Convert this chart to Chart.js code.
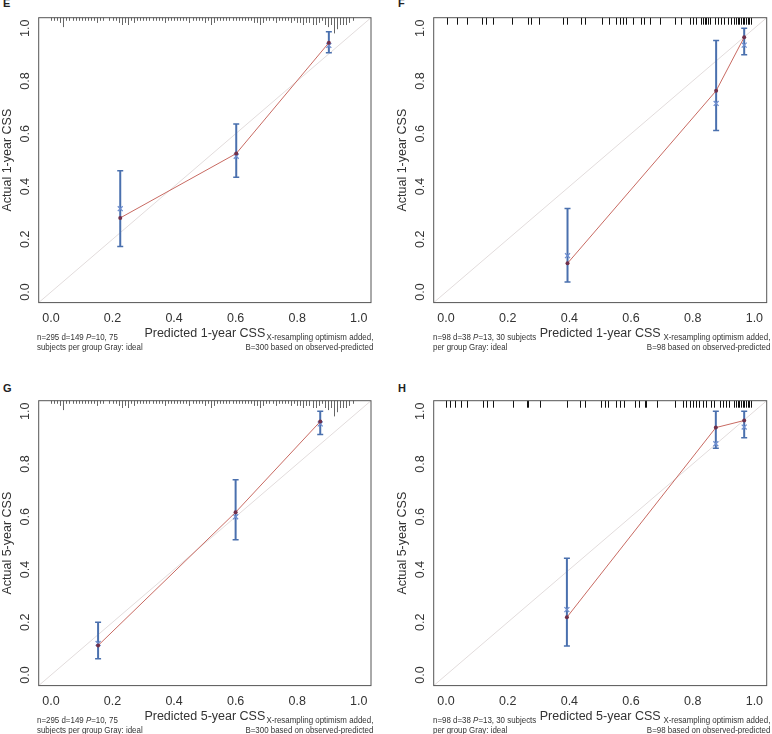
<!DOCTYPE html>
<html>
<head>
<meta charset="utf-8">
<script src="https://cdn.jsdelivr.net/npm/chart.js@4"></script>
<style>
  body { margin: 0; background: #fff; width: 772px; height: 734px; position: relative; overflow: hidden;
         font-family: 'Liberation Sans', Arial, sans-serif; color: #222; }
  canvas { position: absolute; }
  .letter { position: absolute; font-weight: bold; font-size: 11px; line-height: 11px; }
  .note { position: absolute; font-size: 9px; line-height: 10px; white-space: nowrap; color: #333; }
  .note.l { transform: scaleX(0.88); transform-origin: left top; }
  .note.r { transform: scaleX(0.88); transform-origin: right top; text-align: right; }
</style>
</head>
<body>
<div class="letter" style="left:3px;top:-2px">E</div>
<div class="letter" style="left:398px;top:-2px">F</div>
<div class="letter" style="left:3px;top:383px">G</div>
<div class="letter" style="left:398px;top:383px">H</div>

<canvas id="chart-e" width="386" height="360" style="left:0;top:0"></canvas>
<canvas id="chart-f" width="377" height="360" style="left:395px;top:0"></canvas>
<canvas id="chart-g" width="386" height="360" style="left:0;top:383px"></canvas>
<canvas id="chart-h" width="377" height="360" style="left:395px;top:383px"></canvas>

<div class="note l" style="left:37px;top:332px">n=295 d=149 <i>P</i>=10, 75<br>subjects per group Gray: ideal</div>
<div class="note r" style="right:399px;top:332px">X-resampling optimism added,<br>B=300 based on observed-predicted</div>
<div class="note l" style="left:433px;top:332px">n=98 d=38 <i>P</i>=13, 30 subjects<br>per group Gray: ideal</div>
<div class="note r" style="right:2px;top:332px">X-resampling optimism added,<br>B=98 based on observed-predicted</div>
<div class="note l" style="left:37px;top:715px">n=295 d=149 <i>P</i>=10, 75<br>subjects per group Gray: ideal</div>
<div class="note r" style="right:399px;top:715px">X-resampling optimism added,<br>B=300 based on observed-predicted</div>
<div class="note l" style="left:433px;top:715px">n=98 d=38 <i>P</i>=13, 30 subjects<br>per group Gray: ideal</div>
<div class="note r" style="right:2px;top:715px">X-resampling optimism added,<br>B=98 based on observed-predicted</div>

<script>
// axis
const axisRange = [-0.04, 1.04];
const xTicks = [0, 0.2, 0.4, 0.6, 0.8, 1.0];
const yTicks = [0, 0.2, 0.4, 0.6, 0.8, 1.0];

// E: training, 1-year
const predE = [0.225, 0.602, 0.903];
const obsE  = [0.281, 0.525, 0.945];
const corrE = [0.316, 0.515, 0.935];
const loE   = [0.173, 0.435, 0.907];
const hiE   = [0.460, 0.637, 0.987];

// F: validation, 1-year
const predF = [0.394, 0.876, 0.967];
const obsF  = [0.109, 0.763, 0.966];
const corrF = [0.138, 0.715, 0.936];
const loF   = [0.038, 0.612, 0.900];
const hiF   = [0.317, 0.954, 1.000];

// G: training, 5-year
const predG = [0.153, 0.600, 0.875];
const obsG  = [0.112, 0.617, 0.961];
const corrG = [0.120, 0.600, 0.952];
const loG   = [0.062, 0.513, 0.912];
const hiG   = [0.200, 0.740, 1.000];

// H: validation, 5-year
const predH = [0.392, 0.875, 0.967];
const obsH  = [0.219, 0.938, 0.965];
const corrH = [0.248, 0.877, 0.940];
const loH   = [0.110, 0.860, 0.900];
const hiH   = [0.443, 1.000, 1.000];

// spike histogram of predicted values (training set), bins 0.00 .. 0.99
const spikeBins = [0.00, 0.01, 0.02, 0.03, 0.04, 0.05, 0.06, 0.07, 0.08, 0.09,
  0.10, 0.11, 0.12, 0.13, 0.14, 0.15, 0.16, 0.17, 0.18, 0.19,
  0.20, 0.21, 0.22, 0.23, 0.24, 0.25, 0.26, 0.27, 0.28, 0.29,
  0.30, 0.31, 0.32, 0.33, 0.34, 0.35, 0.36, 0.37, 0.38, 0.39,
  0.40, 0.41, 0.42, 0.43, 0.44, 0.45, 0.46, 0.47, 0.48, 0.49,
  0.50, 0.51, 0.52, 0.53, 0.54, 0.55, 0.56, 0.57, 0.58, 0.59,
  0.60, 0.61, 0.62, 0.63, 0.64, 0.65, 0.66, 0.67, 0.68, 0.69,
  0.70, 0.71, 0.72, 0.73, 0.74, 0.75, 0.76, 0.77, 0.78, 0.79,
  0.80, 0.81, 0.82, 0.83, 0.84, 0.85, 0.86, 0.87, 0.88, 0.89,
  0.90, 0.91, 0.92, 0.93, 0.94, 0.95, 0.96, 0.97, 0.98, 0.99];
const spikeE = [1, 1, 1, 2, 4, 1, 1, 1, 1, 1,
  1, 1, 1, 1, 1, 2, 1, 1, 0, 1,
  1, 1, 2, 3, 2, 3, 1, 2, 1, 1,
  1, 1, 1, 1, 1, 1, 1, 2, 1, 1,
  1, 1, 1, 1, 1, 2, 1, 1, 1, 1,
  2, 1, 3, 2, 1, 1, 1, 1, 1, 1,
  1, 1, 1, 1, 1, 1, 2, 2, 3, 2,
  1, 1, 1, 2, 1, 1, 1, 1, 2, 1,
  2, 2, 3, 2, 2, 3, 3, 2, 1, 3,
  4, 3, 7, 5, 3, 3, 3, 2, 1, 0];
const spikeG = spikeE;

// rug of predicted values (validation set)
const rugF = [0.002, 0.037, 0.067, 0.118, 0.128, 0.151, 0.213, 0.267, 0.275, 0.301, 0.378, 0.392,
  0.438, 0.450, 0.507, 0.529, 0.552, 0.563, 0.574, 0.583, 0.606, 0.633, 0.641, 0.660, 0.693,
  0.744, 0.763, 0.792, 0.800, 0.811, 0.828, 0.834, 0.839, 0.844, 0.850, 0.855, 0.871, 0.881,
  0.892, 0.903, 0.914, 0.924, 0.935, 0.940, 0.946, 0.951, 0.956, 0.962, 0.967, 0.972, 0.978,
  0.983, 0.988];
const rugH = [0.000, 0.013, 0.029, 0.048, 0.067, 0.119, 0.132, 0.151, 0.218, 0.261, 0.266, 0.304,
  0.391, 0.434, 0.450, 0.502, 0.515, 0.525, 0.552, 0.563, 0.576, 0.612, 0.625, 0.644, 0.649,
  0.684, 0.741, 0.768, 0.779, 0.790, 0.800, 0.811, 0.822, 0.833, 0.844, 0.860, 0.870, 0.887,
  0.897, 0.908, 0.919, 0.935, 0.940, 0.946, 0.951, 0.956, 0.962, 0.967, 0.972, 0.978, 0.983, 0.988];

const FONT = "'Liberation Sans', Arial, sans-serif";
const RED = '#c86a62';
const DOT = '#70304a';
const XBLUE = '#6f8fd0';
const BAR = '#4a70ae';
const IDEAL = '#e2dcdc';

// error bars, box and rug
const calibPlugin = {
  id: 'calib',
  afterDatasetDraw(chart, args) {
    if (args.index !== 2) return;
    const p = chart.options.plugins.calib;
    const xs = chart.scales.x, ys = chart.scales.y, ctx = chart.ctx;
    ctx.save();
    ctx.strokeStyle = BAR;
    p.pred.forEach((v, i) => {
      const px = xs.getPixelForValue(v);
      const y1 = ys.getPixelForValue(p.lo[i]), y2 = ys.getPixelForValue(p.hi[i]);
      ctx.lineWidth = 2;
      ctx.beginPath(); ctx.moveTo(px, y1); ctx.lineTo(px, y2); ctx.stroke();
      ctx.lineWidth = 1.5;
      ctx.beginPath();
      ctx.moveTo(px - 3, y1); ctx.lineTo(px + 3, y1);
      ctx.moveTo(px - 3, y2); ctx.lineTo(px + 3, y2);
      ctx.stroke();
    });
    ctx.restore();
  },
  afterDraw(chart) {
    const p = chart.options.plugins.calib;
    const a = chart.chartArea, xs = chart.scales.x, ctx = chart.ctx;
    ctx.save();
    ctx.lineWidth = 1;
    if (p.spikes) {
      ctx.strokeStyle = '#666';
      spikeBins.forEach((b, i) => {
        if (!p.spikes[i]) return;
        const px = Math.round(xs.getPixelForValue(b)) + 0.5;
        ctx.beginPath(); ctx.moveTo(px, a.top); ctx.lineTo(px, a.top + 1 + p.spikes[i] * 2.1); ctx.stroke();
      });
    }
    if (p.rug) {
      ctx.strokeStyle = '#111';
      p.rug.forEach(v => {
        const px = Math.round(xs.getPixelForValue(v)) + 0.5;
        ctx.beginPath(); ctx.moveTo(px, a.top); ctx.lineTo(px, a.top + 7); ctx.stroke();
      });
    }
    ctx.strokeStyle = '#555';
    ctx.strokeRect(a.left, a.top, a.right - a.left, a.bottom - a.top);
    ctx.restore();
  }
};

function makePanel(id, p) {
  return new Chart(document.getElementById(id), {
    type: 'line',
    data: {
      datasets: [
        { label: 'Apparent', data: p.pred.map((x, i) => ({ x: x, y: p.obs[i] })),
          borderColor: RED, borderWidth: 1, pointRadius: 2, pointBackgroundColor: DOT,
          pointBorderColor: DOT, pointBorderWidth: 0, tension: 0 },
        { label: 'Bias-corrected', data: p.pred.map((x, i) => ({ x: x, y: p.corr[i] })),
          showLine: false, pointStyle: 'crossRot', pointRadius: 3.5, pointBorderColor: XBLUE,
          pointBorderWidth: 1.3 },
        { label: 'Ideal', data: axisRange.map(v => ({ x: v, y: v })),
          borderColor: IDEAL, borderWidth: 1, pointRadius: 0 }
      ]
    },
    options: {
      responsive: false,
      animation: false,
      layout: { padding: { left: 0, top: 17.7, right: p.padRight, bottom: 0 } },
      plugins: {
        legend: { display: false },
        tooltip: { enabled: false },
        calib: p
      },
      scales: {
        x: {
          type: 'linear', min: axisRange[0], max: axisRange[1],
          afterBuildTicks: s => { s.ticks = xTicks.map(v => ({ value: v })); },
          afterFit: s => { s.height = 57.4; },
          grid: { display: false, drawTicks: false },
          border: { display: false },
          ticks: { padding: 8, color: '#333', font: { size: 12.5, family: FONT },
                   callback: v => v.toFixed(1) },
          title: { display: true, text: p.xTitle, color: '#333', font: { size: 12.5, family: FONT },
                   padding: { top: 0, bottom: 18.5 } }
        },
        y: {
          type: 'linear', min: axisRange[0], max: axisRange[1],
          afterBuildTicks: s => { s.ticks = yTicks.map(v => ({ value: v })); },
          afterFit: s => { s.width = 38.7; },
          grid: { display: false, drawTicks: false },
          border: { display: false },
          ticks: { padding: 4, minRotation: 90, maxRotation: 90, crossAlign: 'center',
                   color: '#333', font: { size: 12.5, family: FONT },
                   callback: v => v.toFixed(1) },
          title: { display: true, text: p.yTitle, color: '#333', font: { size: 12.5, family: FONT },
                   padding: { top: 0, bottom: 0 } }
        }
      }
    },
    plugins: [calibPlugin]
  });
}

makePanel('chart-e', { pred: predE, obs: obsE, corr: corrE, lo: loE, hi: hiE, spikes: spikeE,
  xTitle: 'Predicted 1-year CSS', yTitle: 'Actual 1-year CSS', padRight: 15 });
makePanel('chart-f', { pred: predF, obs: obsF, corr: corrF, lo: loF, hi: hiF, rug: rugF,
  xTitle: 'Predicted 1-year CSS', yTitle: 'Actual 1-year CSS', padRight: 5.3 });
makePanel('chart-g', { pred: predG, obs: obsG, corr: corrG, lo: loG, hi: hiG, spikes: spikeG,
  xTitle: 'Predicted 5-year CSS', yTitle: 'Actual 5-year CSS', padRight: 15 });
makePanel('chart-h', { pred: predH, obs: obsH, corr: corrH, lo: loH, hi: hiH, rug: rugH,
  xTitle: 'Predicted 5-year CSS', yTitle: 'Actual 5-year CSS', padRight: 5.3 });
</script>
</body>
</html>
